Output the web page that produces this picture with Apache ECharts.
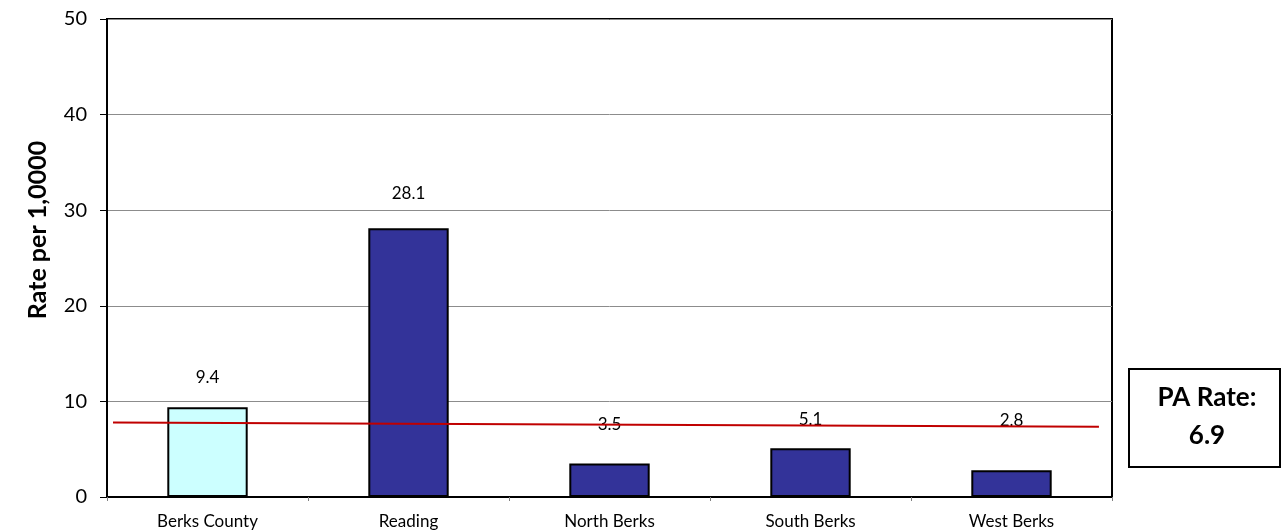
<!DOCTYPE html>
<html>
<head>
<meta charset="utf-8">
<script src="https://cdn.jsdelivr.net/npm/echarts@6/dist/echarts.min.js"></script>
<style>
  html, body { margin: 0; padding: 0; background: #fff; }
  #chart { width: 1281px; height: 531px; }
</style>
</head>
<body>
<div id="chart"></div>
<script>
// Rates per 10,000 by area
const categories = ['Berks County', 'Reading', 'North Berks', 'South Berks', 'West Berks'];
const rates = [9.4, 28.1, 3.5, 5.1, 2.8];
const yTicks = [0, 10, 20, 30, 40, 50];
// Reference line values at its left and right ends
const paLineValues = [7.8, 7.35];
const paRate = 6.9;

const FONT = 'Lato, "Open Sans", sans-serif';
const countyColor = '#CCFFFF';
const areaColor = '#333399';
// Gap (px) between each bar top and its value label
const labelDistances = [21, 26, 31, 20, 41];

const chart = echarts.init(document.getElementById('chart'), null, { renderer: 'canvas' });

chart.setOption({
  animation: false,
  backgroundColor: '#fff',
  grid: { left: 107, right: 169, top: 19, bottom: 34, show: true, borderColor: '#000', borderWidth: 2 },
  xAxis: [
    {
      type: 'category',
      data: categories,
      axisLine: { lineStyle: { color: '#000', width: 2 } },
      axisTick: { show: true, length: 4, lineStyle: { color: '#808080', width: 1 } },
      axisLabel: { color: '#000', fontSize: 17, fontFamily: FONT, margin: 16 }
    },
    {
      type: 'value', min: 0, max: 1, show: false
    }
  ],
  yAxis: {
    type: 'value',
    min: yTicks[0],
    max: yTicks[yTicks.length - 1],
    interval: 10,
    axisLine: { show: true, lineStyle: { color: '#000', width: 2 } },
    axisTick: { show: true, length: 7, lineStyle: { color: '#000', width: 1 } },
    axisLabel: { color: '#000', fontSize: 20, fontFamily: FONT, margin: 20 },
    splitLine: { lineStyle: { color: '#8c8c8c', width: 1 } }
  },
  series: [
    {
      type: 'bar',
      xAxisIndex: 0,
      barWidth: '40%',
      data: rates.map((v, i) => ({
        value: v,
        itemStyle: { color: i === 0 ? countyColor : areaColor },
        label: { distance: labelDistances[i] }
      })),
      itemStyle: { borderColor: '#000', borderWidth: 2 },
      label: {
        show: true,
        position: 'top',
        color: '#000',
        fontSize: 17,
        fontFamily: FONT,
        formatter: p => p.value.toFixed(1)
      },
      z: 2
    },
    {
      type: 'line',
      xAxisIndex: 1,
      data: [[0.006, paLineValues[0]], [0.987, paLineValues[1]]],
      symbol: 'none',
      lineStyle: { color: '#C00000', width: 2 },
      z: 3
    }
  ],
  graphic: [
    {
      type: 'text',
      x: 38,
      y: 230,
      rotation: Math.PI / 2,
      style: {
        text: 'Rate per 1,0000',
        fontSize: 25,
        fontWeight: 'bold',
        fontFamily: FONT,
        fill: '#000',
        align: 'center',
        verticalAlign: 'middle'
      }
    },
    {
      type: 'rect',
      shape: { x: 1129, y: 369, width: 151, height: 98 },
      style: { fill: '#fff', stroke: '#000', lineWidth: 2 }
    },
    {
      type: 'text',
      x: 1207, y: 398,
      style: { text: 'PA Rate:', fontSize: 26, fontWeight: 'bold', fontFamily: FONT, fill: '#000', align: 'center', verticalAlign: 'middle' }
    },
    {
      type: 'text',
      x: 1207, y: 436,
      style: { text: String(paRate), fontSize: 26, fontWeight: 'bold', fontFamily: FONT, fill: '#000', align: 'center', verticalAlign: 'middle' }
    }
  ]
});
</script>
</body>
</html>
